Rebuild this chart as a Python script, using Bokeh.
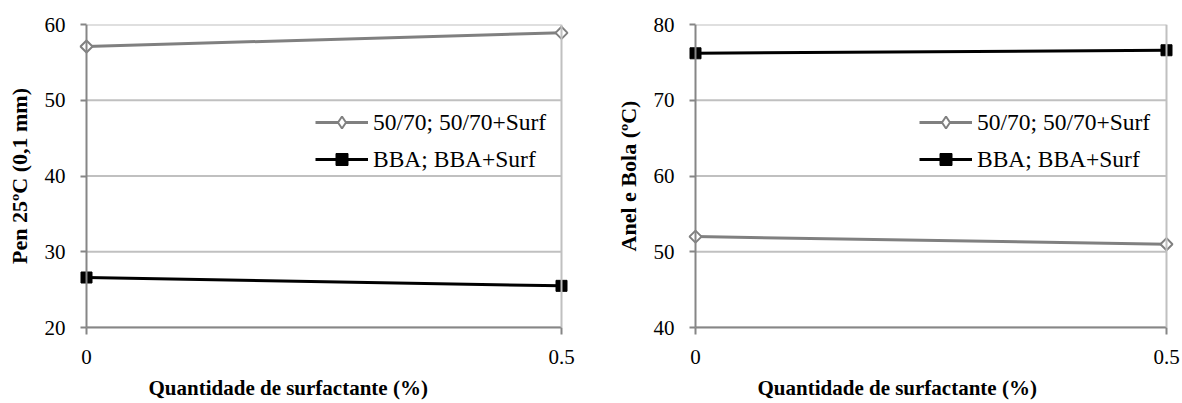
import math
from bokeh.plotting import figure
from bokeh.layouts import row
from bokeh.models import FixedTicker, Legend, LegendItem, Title, Range1d, Span
from bokeh.embed import file_html
from bokeh.resources import INLINE

# data
surf = [0, 0.5]
pen_5070 = [57.1, 58.9]
pen_bba = [26.6, 25.5]
rb_5070 = [52.0, 51.0]
rb_bba = [76.2, 76.6]
label_5070 = "50/70; 50/70+Surf"
label_bba = "BBA; BBA+Surf"
xtitle = "Quantidade de surfactante (%)"
ytitle_left = "Pen 25ºC (0,1 mm)"
ytitle_right = "Anel e Bola (ºC)"
yticks_left = [20, 30, 40, 50, 60]
yticks_right = [40, 50, 60, 70, 80]

FONT = "Liberation Serif"
GRID = "#c0c0c0"
AX = "#868686"
PADPX = 8  # extra frame pixels on each side so edge markers are not clipped


def make(yvals_a, yvals_b, yr, yticks, ytitle, data_w, bl, br, leg_x):
    pad = (surf[-1] - surf[0]) * PADPX / data_w
    p = figure(frame_width=data_w + 2 * PADPX, frame_height=303,
               x_range=Range1d(surf[0] - pad, surf[-1] + pad), y_range=Range1d(*yr),
               output_backend="svg", toolbar_location=None,
               min_border_left=bl, min_border_right=br, min_border_top=24, min_border_bottom=0)
    p.outline_line_color = None
    p.background_fill_color = "white"
    p.border_fill_color = "white"
    p.xgrid.visible = False
    p.ygrid.visible = False
    for ax in (p.xaxis[0], p.yaxis[0]):
        ax.axis_line_color = AX
        ax.axis_line_width = 2
        ax.major_tick_line_color = AX
        ax.major_tick_line_width = 2
        ax.minor_tick_line_color = None
        ax.major_label_text_font = FONT
        ax.major_label_text_font_size = "21px"
        ax.major_label_text_color = "black"
    xa = p.xaxis[0]
    xa.bounds = (surf[0], surf[-1])
    xa.ticker = FixedTicker(ticks=surf)
    xa.major_label_overrides = {0: "0", 0.5: "0.5"}
    xa.major_tick_out = 7
    xa.major_tick_in = 0
    xa.major_label_standoff = 15
    ya = p.yaxis[0]
    ya.axis_line_color = None
    ya.ticker = FixedTicker(ticks=yticks)
    ya.major_tick_out = -2
    ya.major_tick_in = PADPX
    ya.major_label_standoff = 13
    ya.axis_label = ytitle
    ya.axis_label_text_font = FONT
    ya.axis_label_text_font_size = "22px"
    ya.axis_label_text_font_style = "bold"
    ya.axis_label_text_color = "black"
    ya.axis_label_standoff = 10

    p.segment(x0=[surf[0]] * len(yticks), x1=[surf[-1]] * len(yticks), y0=yticks, y1=yticks,
              line_color=GRID, line_width=2)
    p.add_layout(Span(location=surf[-1], dimension="height", line_color=GRID, line_width=2))
    p.add_layout(Span(location=surf[0], dimension="height", line_color=AX, line_width=2))

    la = p.line(surf, yvals_a, line_color="#808080", line_width=3)
    p.scatter(surf, yvals_a, marker="square", angle=math.pi / 4, size=8.5,
              fill_color="white", line_color="#808080", line_width=2)
    ma_leg = p.scatter(surf, yvals_a, marker="diamond", size=13, fill_color="white",
                       line_color="#808080", line_width=2, visible=False)
    lb = p.line(surf, yvals_b, line_color="black", line_width=3)
    mb = p.scatter(surf, yvals_b, marker="square", size=11, fill_color="black",
                   line_color="black")

    leg = Legend(items=[LegendItem(label=label_5070, renderers=[la, ma_leg]),
                        LegendItem(label=label_bba, renderers=[lb, mb])],
                 location=(leg_x, 153), border_line_color=None, background_fill_alpha=0,
                 label_text_font=FONT, label_text_font_size="23.5px",
                 label_text_color="black",
                 glyph_width=53, glyph_height=30, label_height=30, spacing=7,
                 padding=0, margin=0, label_standoff=5)
    p.add_layout(leg, "center")

    t = Title(text=xtitle, align="left", offset=70, text_font=FONT, text_font_size="21px",
              text_font_style="bold", text_color="black", standoff=15)
    p.add_layout(t, "below")
    return p


p1 = make(pen_5070, pen_bba, (20, 60), yticks_left, ytitle_left, 475, 78, 43, 237)
p2 = make(rb_5070, rb_bba, (40, 80), yticks_right, ytitle_right, 471, 75, 6, 232)

layout = row(p1, p2, spacing=0)
open("out.html", "w").write(file_html(layout, INLINE))
